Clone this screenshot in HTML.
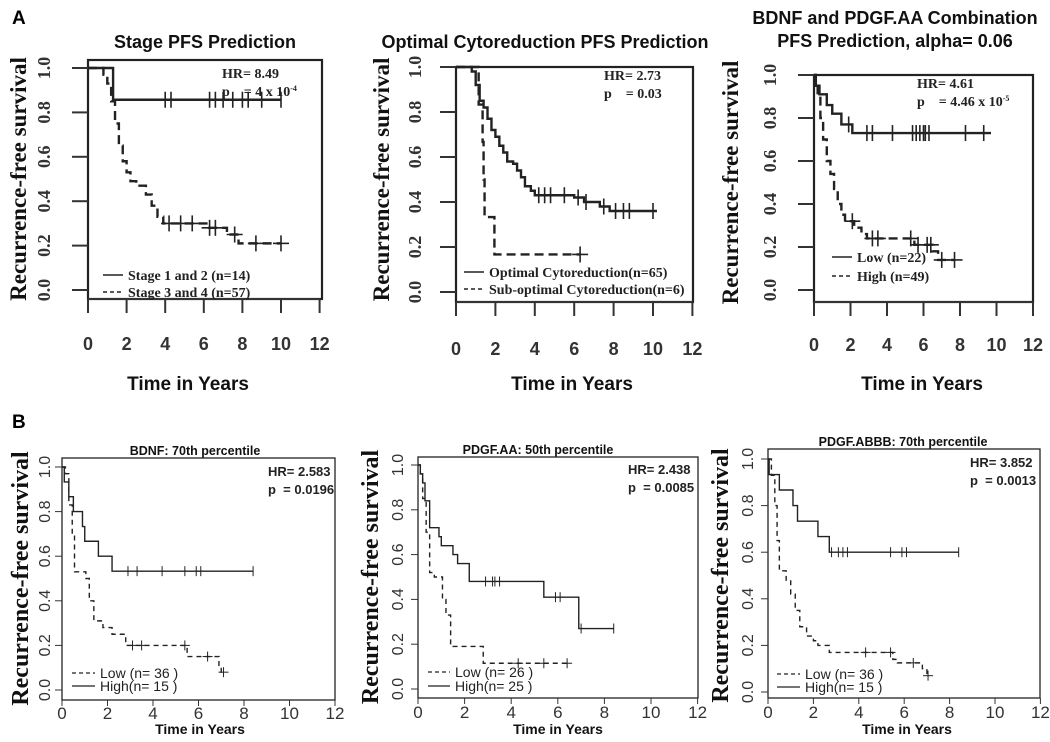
<!DOCTYPE html>
<html><head><meta charset="utf-8"><style>
body{margin:0;background:#fff;width:1050px;height:742px;overflow:hidden}
svg{display:block}
</style></head><body>
<svg id="fig" width="1050" height="742" xmlns="http://www.w3.org/2000/svg">
<text x="12" y="24" font-family="Liberation Sans, sans-serif" font-weight="bold" font-size="19">A</text>
<text x="12" y="428" font-family="Liberation Sans, sans-serif" font-weight="bold" font-size="19">B</text>
</svg>
<script>
// ---- data: step times (years) and survival after each step; censor times ----
const a1SolidT=[0,1.3]; const a1SolidS=[1,0.857]; const a1SolidC=[4,4.3,6.3,6.6,7,7.5,8,8.3,9,10]; const a1SolidEnd=10;
const a1DashT=[0,0.8,1,1.2,1.4,1.6,1.8,2,2.2,2.5,3,3.3,3.6,3.9,6.2,7.2,7.8]; const a1DashS=[1,0.97,0.93,0.85,0.75,0.65,0.58,0.53,0.49,0.47,0.43,0.38,0.33,0.3,0.28,0.25,0.21]; const a1DashC=[4.2,4.8,5.4,6.3,6.6,7.6,8.7,10]; const a1DashEnd=10;
const a2SolidT=[0,0.8,1,1.2,1.4,1.6,1.8,2,2.2,2.4,2.6,2.9,3.1,3.3,3.5,3.8,4,6,6.5,7.3,7.8]; const a2SolidS=[1,0.98,0.92,0.85,0.82,0.77,0.72,0.69,0.65,0.62,0.58,0.57,0.54,0.51,0.47,0.45,0.43,0.42,0.4,0.38,0.36]; const a2SolidC=[4.2,4.5,4.8,5.5,6.2,6.6,7.5,8.1,8.5,8.8,10]; const a2SolidEnd=10.2;
const a2DashT=[0,1.15,1.35,1.4,1.45,1.95]; const a2DashS=[1,0.833,0.667,0.5,0.333,0.167]; const a2DashC=[6.3]; const a2DashEnd=6.3;
const a3SolidT=[0,0.1,0.3,0.7,1,1.5,2.1]; const a3SolidS=[1,0.95,0.91,0.86,0.82,0.77,0.73]; const a3SolidC=[1.9,2.9,3.2,4.3,5.4,5.6,5.8,6.0,6.1,6.3,8.3,9.3]; const a3SolidEnd=9.7;
const a3DashT=[0,0.1,0.2,0.35,0.5,0.7,0.9,1.1,1.3,1.5,1.7,2.2,2.6,2.9,5.5,6.5,6.8]; const a3DashS=[1,0.96,0.9,0.8,0.7,0.6,0.54,0.47,0.4,0.35,0.32,0.29,0.26,0.24,0.21,0.18,0.14]; const a3DashC=[2.1,3.2,3.5,5.3,5.7,6.2,6.4,7.0,7.7]; const a3DashEnd=7.7;
const b1SolidT=[0,0.1,0.3,0.5,0.9,1.0,1.6,2.2]; const b1SolidS=[1,0.933,0.867,0.8,0.733,0.667,0.6,0.533]; const b1SolidC=[2.9,3.3,4.4,5.4,5.9,6.1,8.4]; const b1SolidEnd=8.4;
const b1DashT=[0,0.15,0.3,0.45,0.55,1.05,1.2,1.4,1.8,2.2,2.8,5.5,6.9,7.0]; const b1DashS=[1,0.97,0.83,0.7,0.53,0.5,0.4,0.31,0.28,0.25,0.2,0.15,0.11,0.08]; const b1DashC=[3.1,3.5,5.4,6.4,7.1]; const b1DashEnd=7.1;
const b2SolidT=[0,0.1,0.2,0.3,0.5,0.9,1.0,1.5,1.7,2.2,5.4,6.9]; const b2SolidS=[1,0.96,0.92,0.84,0.72,0.68,0.64,0.6,0.56,0.48,0.41,0.27]; const b2SolidC=[2.9,3.2,3.3,3.5,5.9,6.1,7.0,8.4]; const b2SolidEnd=8.4;
const b2DashT=[0,0.1,0.2,0.35,0.5,0.7,1.05,1.2,1.4,2.8]; const b2DashS=[1,0.96,0.85,0.7,0.52,0.5,0.4,0.33,0.19,0.115]; const b2DashC=[4.3,5.4,6.4]; const b2DashEnd=6.4;
const b3SolidT=[0,0.05,0.5,1.1,1.3,2.2,2.7]; const b3SolidS=[1,0.933,0.867,0.8,0.733,0.667,0.6]; const b3SolidC=[2.8,3.1,3.3,3.5,5.4,5.9,6.1,8.4]; const b3SolidEnd=8.4;
const b3DashT=[0,0.15,0.3,0.4,0.5,0.8,1.0,1.2,1.4,1.7,2,2.2,2.7,5.5,5.7,6.8,7.0]; const b3DashS=[1,0.93,0.8,0.65,0.52,0.48,0.42,0.35,0.28,0.24,0.22,0.2,0.17,0.14,0.125,0.1,0.07]; const b3DashC=[4.3,5.4,6.4,7.05]; const b3DashEnd=7.05;
const xTicks=[0,2,4,6,8,10,12];
const yTicks=["0.0","0.2","0.4","0.6","0.8","1.0"];

const NS="http://www.w3.org/2000/svg";
const svg=document.getElementById('fig');
function mk(tag,attrs,parent){const e=document.createElementNS(NS,tag);for(const k in attrs)e.setAttribute(k,attrs[k]);(parent||svg).appendChild(e);return e;}
function txt(s,attrs,parent){const e=mk('text',attrs,parent);e.textContent=s;return e;}

function panel(p){
  const g=mk('g',{});
  
  
  const sx=t=>p.x0+t*p.xs, sy=v=>p.y0+(p.y1-p.y0)*(1-v);
  const serif="Liberation Serif, serif", sans="Liberation Sans, sans-serif";
  const lw=p.A?2.4:1.4;
  const box=mk('rect',{x:p.bl,y:p.bt,width:p.br-p.bl,height:p.bb-p.bt,fill:'none',stroke:'#222','stroke-width':p.A?2.2:1.3},g);
  
  yTicks.forEach((l,i)=>{const v=+l,y=sy(v);
    mk('line',{x1:p.bl-(p.A?16:7),x2:p.bl,y1:y,y2:y,stroke:'#333','stroke-width':p.A?2:1},g);
    const t=txt(l,{x:p.ytx,y:y,transform:`rotate(-90 ${p.ytx} ${y})`,'text-anchor':'middle','font-family':p.A?serif:sans,'font-weight':p.A?'bold':'normal','font-size':p.A?18:16,fill:'#333'},g);
    });
  xTicks.forEach(v=>{const x=sx(v);
    mk('line',{x1:x,x2:x,y1:p.bb,y2:p.bb+(p.A?14:6),stroke:'#333','stroke-width':p.A?2:1},g);
    const t=txt(String(v),{x:x,y:p.xty,'text-anchor':'middle','font-family':sans,'font-weight':p.A?'bold':'normal','font-size':p.A?18:17,fill:'#333'},g);
    });
  if(p.A) mk('line',{x1:sx(0),x2:sx(12),y1:p.bb,y2:p.bb,stroke:'#333','stroke-width':2},g);
  const yl=txt('Recurrence-free survival',{x:p.ylx,y:(p.y0+p.y1)/2,transform:`rotate(-90 ${p.ylx} ${(p.y0+p.y1)/2})`,'text-anchor':'middle','font-family':serif,'font-weight':'bold','font-size':p.A?23:24,fill:'#111'},g);
  
  const xl=txt('Time in Years',{x:p.xlx,y:p.xly,'text-anchor':'middle','font-family':sans,'font-weight':'bold','font-size':p.A?19:14,fill:'#111'},g);
  
  p.title.forEach((s,i)=>{const t=txt(s,{x:p.tx,y:p.ty+i*23,'text-anchor':'middle','font-family':sans,'font-weight':'bold','font-size':p.A?18:12.5,fill:'#111'},g);
    });
  const f=p.A?serif:sans;
  const hr=txt(p.hr,{x:p.hx,y:p.hy,'font-family':f,'font-weight':'bold','font-size':p.A?14:13,fill:'#222'},g);
  
  const pv=txt('',{x:p.hx,y:p.hy+18,'font-family':f,'font-weight':'bold','font-size':p.A?14:13,fill:'#222'},g);
  pv.innerHTML=p.pv;
  
  p.series.forEach(s=>{
    let d=`M${sx(s.t[0])},${sy(s.s[0])}`;
    for(let i=1;i<s.t.length;i++){d+=` H${sx(s.t[i])} V${sy(s.s[i])}`;}
    d+=` H${sx(s.end)}`;
    const path=mk('path',{d:d,fill:'none',stroke:'#222','stroke-width':lw,'stroke-dasharray':s.dash?(p.A?'9,5':'5,4'):'none'},g);
    
    s.c.forEach(ct=>{let v=s.s[0];for(let i=0;i<s.t.length;i++)if(s.t[i]<=ct)v=s.s[i];
      const x=sx(ct),y=sy(v),h=p.A?8:5;
      const m=mk('line',{x1:x,x2:x,y1:y-h,y2:y+h,stroke:'#222','stroke-width':p.A?1.6:1},g);
      
      if(s.dash) mk('line',{x1:x-h,x2:x+h,y1:y,y2:y,stroke:'#222','stroke-width':p.A?1.6:1},g);});
  });
  p.leg.forEach((l,i)=>{const y=p.ly+i*p.lg;
    mk('line',{x1:p.lx,x2:p.lx+p.ll,y1:y,y2:y,stroke:'#222','stroke-width':p.A?1.4:1.2,'stroke-dasharray':l.dash?'4,3':'none'},g);
    const t=txt(l.s,{x:p.lx+p.ll+5,y:y+5,'font-family':f,'font-weight':p.A?'bold':'normal','font-size':p.A?14:14,fill:'#222'},g);
    });
}

panel({id:'stage-pfs-panel',A:true,bl:88,bt:60,br:322,bb:299,x0:88,xs:19.3,y0:68,y1:290,ytx:50,xty:350,ylx:26,xlx:188,xly:390,
  title:['Stage PFS Prediction'],tx:205,ty:48,hr:'HR= 8.49',pv:'p &#160;&#160; = 4 x 10<tspan dy="-5" font-size="8">-4</tspan>',hx:222,hy:78,
  series:[{name:'stage-1-2-curve',t:a1SolidT,s:a1SolidS,c:a1SolidC,end:a1SolidEnd},{name:'stage-3-4-curve',dash:true,t:a1DashT,s:a1DashS,c:a1DashC,end:a1DashEnd}],
  leg:[{s:'Stage 1 and 2 (n=14)'},{s:'Stage 3 and 4 (n=57)',dash:true}],lx:103,ll:20,ly:275,lg:17});
panel({id:'cytoreduction-pfs-panel',A:true,bl:456,bt:67,br:693,bb:302,x0:456,xs:19.7,y0:67,y1:292,ytx:421,xty:355,ylx:389,xlx:572,xly:390,
  title:['Optimal Cytoreduction PFS Prediction'],tx:545,ty:48,hr:'HR= 2.73',pv:'p &#160;&#160; = 0.03',hx:604,hy:80,
  series:[{name:'optimal-curve',t:a2SolidT,s:a2SolidS,c:a2SolidC,end:a2SolidEnd},{name:'suboptimal-curve',dash:true,t:a2DashT,s:a2DashS,c:a2DashC,end:a2DashEnd}],
  leg:[{s:'Optimal Cytoreduction(n=65)'},{s:'Sub-optimal Cytoreduction(n=6)',dash:true}],lx:464,ll:20,ly:272,lg:17});
panel({id:'combination-pfs-panel',A:true,bl:814,bt:75,br:1033,bb:302,x0:814,xs:18.25,y0:75,y1:290,ytx:776,xty:351,ylx:738,xlx:922,xly:390,
  title:['BDNF and PDGF.AA Combination','PFS Prediction, alpha= 0.06'],tx:895,ty:24,hr:'HR= 4.61',pv:'p &#160;&#160; = 4.46 x 10<tspan dy="-5" font-size="8">-5</tspan>',hx:917,hy:88,
  series:[{name:'low-curve',t:a3SolidT,s:a3SolidS,c:a3SolidC,end:a3SolidEnd},{name:'high-curve',dash:true,t:a3DashT,s:a3DashS,c:a3DashC,end:a3DashEnd}],
  leg:[{s:'Low (n=22)'},{s:'High (n=49)',dash:true}],lx:832,ll:20,ly:257,lg:19});
panel({id:'bdnf-panel',A:false,bl:62,bt:458,br:335,bb:700,x0:62,xs:22.75,y0:467,y1:690,ytx:50,xty:719,ylx:28,xlx:200,xly:734,
  title:['BDNF: 70th percentile'],tx:195,ty:455,hr:'HR= 2.583',pv:'p &#160;= 0.0196',hx:268,hy:476,
  series:[{name:'high-curve',t:b1SolidT,s:b1SolidS,c:b1SolidC,end:b1SolidEnd},{name:'low-curve',dash:true,t:b1DashT,s:b1DashS,c:b1DashC,end:b1DashEnd}],
  leg:[{s:'Low (n= 36 )',dash:true},{s:'High(n= 15 )'}],lx:72,ll:23,ly:673,lg:13});
panel({id:'pdgf-aa-panel',A:false,bl:418,bt:457,br:698,bb:698,x0:418,xs:23.3,y0:465,y1:689,ytx:403,xty:718,ylx:378,xlx:558,xly:734,
  title:['PDGF.AA: 50th percentile'],tx:538,ty:454,hr:'HR= 2.438',pv:'p &#160;= 0.0085',hx:628,hy:474,
  series:[{name:'high-curve',t:b2SolidT,s:b2SolidS,c:b2SolidC,end:b2SolidEnd},{name:'low-curve',dash:true,t:b2DashT,s:b2DashS,c:b2DashC,end:b2DashEnd}],
  leg:[{s:'Low (n= 26 )',dash:true},{s:'High(n= 25 )'}],lx:428,ll:22,ly:672,lg:14});
panel({id:'pdgf-abbb-panel',A:false,bl:768,bt:449,br:1040,bb:698,x0:768,xs:22.7,y0:459,y1:692,ytx:753,xty:718,ylx:728,xlx:907,xly:734,
  title:['PDGF.ABBB: 70th percentile'],tx:903,ty:446,hr:'HR= 3.852',pv:'p &#160;= 0.0013',hx:970,hy:467,
  series:[{name:'high-curve',t:b3SolidT,s:b3SolidS,c:b3SolidC,end:b3SolidEnd},{name:'low-curve',dash:true,t:b3DashT,s:b3DashS,c:b3DashC,end:b3DashEnd}],
  leg:[{s:'Low (n= 36 )',dash:true},{s:'High(n= 15 )'}],lx:777,ll:23,ly:674,lg:13});
</script>
</body></html>
